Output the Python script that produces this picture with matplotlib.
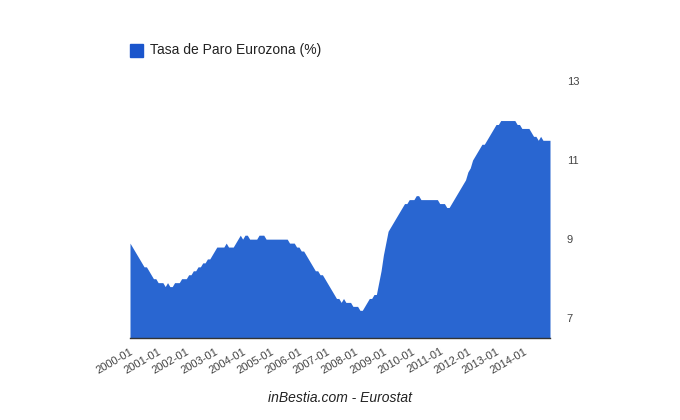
import numpy as np
import matplotlib.pyplot as plt

plt.rcParams["font.family"] = ["Liberation Sans", "DejaVu Sans"]

# tasa de paro mensual, eurozona, 2000-01 .. 2014-12
paro = {
    2000: [8.9, 8.8, 8.7, 8.6, 8.5, 8.4, 8.3, 8.3, 8.2, 8.1, 8.0, 8.0],
    2001: [7.9, 7.9, 7.9, 7.8, 7.9, 7.8, 7.8, 7.9, 7.9, 7.9, 8.0, 8.0],
    2002: [8.0, 8.1, 8.1, 8.2, 8.2, 8.3, 8.3, 8.4, 8.4, 8.5, 8.5, 8.6],
    2003: [8.7, 8.8, 8.8, 8.8, 8.8, 8.9, 8.8, 8.8, 8.8, 8.9, 9.0, 9.1],
    2004: [9.0, 9.1, 9.1, 9.0, 9.0, 9.0, 9.0, 9.1, 9.1, 9.1, 9.0, 9.0],
    2005: [9.0, 9.0, 9.0, 9.0, 9.0, 9.0, 9.0, 9.0, 8.9, 8.9, 8.9, 8.8],
    2006: [8.8, 8.7, 8.7, 8.6, 8.5, 8.4, 8.3, 8.2, 8.2, 8.1, 8.1, 8.0],
    2007: [7.9, 7.8, 7.7, 7.6, 7.5, 7.5, 7.4, 7.5, 7.4, 7.4, 7.4, 7.3],
    2008: [7.3, 7.3, 7.2, 7.2, 7.3, 7.4, 7.5, 7.5, 7.6, 7.6, 7.9, 8.2],
    2009: [8.6, 8.9, 9.2, 9.3, 9.4, 9.5, 9.6, 9.7, 9.8, 9.9, 9.9, 10.0],
    2010: [10.0, 10.0, 10.1, 10.1, 10.0, 10.0, 10.0, 10.0, 10.0, 10.0, 10.0, 10.0],
    2011: [9.9, 9.9, 9.9, 9.8, 9.8, 9.9, 10.0, 10.1, 10.2, 10.3, 10.4, 10.5],
    2012: [10.7, 10.8, 11.0, 11.1, 11.2, 11.3, 11.4, 11.4, 11.5, 11.6, 11.7, 11.8],
    2013: [11.9, 11.9, 12.0, 12.0, 12.0, 12.0, 12.0, 12.0, 12.0, 11.9, 11.9, 11.8],
    2014: [11.8, 11.8, 11.8, 11.7, 11.6, 11.6, 11.5, 11.6, 11.5, 11.5, 11.5, 11.5],
}
anios = list(paro.keys())
valores = np.concatenate([paro[a] for a in anios])
meses = np.arange(len(valores))
etiquetas = [f"{a}-01" for a in anios]
y_ticks = [7, 9, 11, 13]

azul = "#2966d1"

fig = plt.figure(figsize=(6.8, 4.2), dpi=100)
ax = fig.add_axes([130 / 680, 82 / 420, 420 / 680, 257 / 420])

ax.fill_between(meses, valores, 6.5, color=azul, linewidth=0, label="Tasa de Paro Eurozona (%)")
ax.set_xlim(0, meses[-1])
ax.set_ylim(6.5, 13)

ax.set_xticks(meses[::12])
ax.set_xticklabels(etiquetas, rotation=30, ha="right", rotation_mode="anchor",
                   fontsize=8, color="#444444")
ax.tick_params(axis="x", length=0, pad=6)

ax.yaxis.tick_right()
ax.set_yticks(y_ticks)
ax.set_yticklabels([str(v) for v in y_ticks], fontsize=8, color="#444444")
ax.tick_params(axis="y", length=0, pad=12)

for lado in ["top", "left", "right"]:
    ax.spines[lado].set_visible(False)
ax.spines["bottom"].set_color("#333333")
ax.spines["bottom"].set_linewidth(1)

# leyenda
fig.patches.append(plt.Rectangle((130 / 680, 1 - 57 / 420), 13 / 680, 13 / 420,
                                 transform=fig.transFigure, color="#1a55cc"))
fig.text(150 / 680, 1 - 50 / 420, "Tasa de Paro Eurozona (%)", fontsize=10,
         color="#222222", va="center")

fig.text(340 / 680, 1 - 398 / 420, "inBestia.com - Eurostat", fontsize=10,
         style="italic", color="#222222", ha="center", va="center")

plt.savefig("out.png")
